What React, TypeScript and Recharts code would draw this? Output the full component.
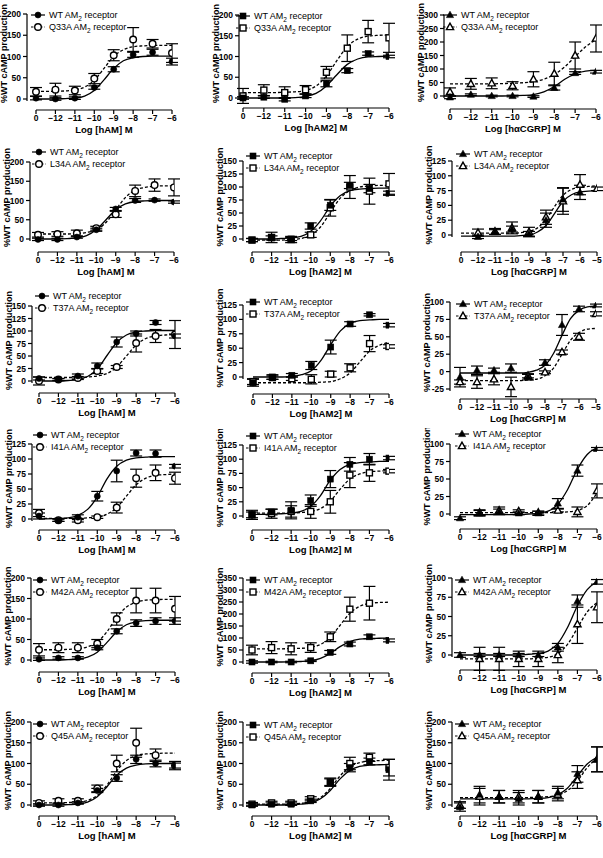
import React from 'react'
import { ComposedChart, ErrorBar, Legend, Line, ReferenceLine, Scatter, XAxis, YAxis } from 'recharts'

// 0 on the axis is the basal (no agonist) point, drawn one log unit left of -12.
const DOSES = [-13, -12, -11, -10, -9, -8, -7, -6]
const DOSES_5 = [-13, -12, -11, -10, -9, -8, -7, -6, -5]
const FIT_X = [-13, -12, -11.5, -11, -10.5, -10, -9.5, -9, -8.5, -8, -7.5, -7, -6.5, -6]
const FIT_X_5 = [-13, -12, -11.5, -11, -10.5, -10, -9.5, -9, -8.5, -8, -7.5, -7, -6.5, -6, -5.5, -5]

const TICKS_200 = [0, 50, 100, 150, 200]
const TICKS_150 = [0, 25, 50, 75, 100, 125, 150]
const TICKS_125 = [0, 25, 50, 75, 100, 125]
const TICKS_100 = [0, 25, 50, 75, 100]
const TICKS_300 = [0, 50, 100, 150, 200, 250, 300]
const TICKS_350 = [0, 50, 100, 150, 200, 250, 300, 350]
const TICKS_M25 = [-25, 0, 25, 50, 75, 100]

// Q33A
const Q33A_AM_WT = [2, 0, 2, 27, 70, 104, 110, 88]
const Q33A_AM_WT_SEM = [4, 3, 3, 4, 6, 6, 7, 8]
const Q33A_AM_MUT = [17, 22, 20, 48, 103, 140, 130, 108]
const Q33A_AM_MUT_SEM = [10, 15, 10, 12, 13, 28, 10, 22]
const Q33A_AM_WT_FIT = [0, 0, 1, 2, 7, 20, 45, 72, 90, 97, 100, 101, 101, 101]
const Q33A_AM_MUT_FIT = [18, 18, 19, 21, 28, 44, 72, 100, 116, 123, 125, 126, 126, 126]

const Q33A_AM2_WT = [0, 2, -3, 5, 35, 66, 107, 100]
const Q33A_AM2_WT_SEM = [3, 3, 4, 4, 8, 5, 4, 3]
const Q33A_AM2_MUT = [5, 19, 13, 20, 62, 120, 160, 145]
const Q33A_AM2_MUT_SEM = [18, 13, 14, 10, 14, 32, 27, 35]
const Q33A_AM2_WT_FIT = [0, 0, 0, 0, 1, 4, 11, 29, 56, 81, 94, 99, 100, 101]
const Q33A_AM2_MUT_FIT = [13, 13, 13, 14, 15, 18, 29, 53, 90, 124, 142, 149, 151, 152]

const Q33A_CGRP_WT = [-5, 5, 0, 0, -2, 30, 85, 90]
const Q33A_CGRP_WT_SEM = [5, 3, 3, 3, 3, 8, 5, 5]
const Q33A_CGRP_MUT = [15, 45, 47, 38, 62, 83, 150, 213]
const Q33A_CGRP_MUT_SEM = [15, 20, 20, 15, 28, 42, 50, 50]
const Q33A_CGRP_WT_FIT = [0, 0, 0, 0, 0, 1, 2, 5, 15, 35, 62, 82, 92, 95]
const Q33A_CGRP_MUT_FIT = [45, 45, 45, 45, 46, 47, 49, 53, 62, 80, 108, 146, 182, 210]

// L34A
const L34A_AM_WT = [-1, -1, 5, 24, 78, 100, 101, 96]
const L34A_AM_WT_SEM = [3, 3, 3, 4, 4, 5, 3, 3]
const L34A_AM_MUT = [11, 13, 15, 28, 64, 125, 140, 134]
const L34A_AM_MUT_SEM = [6, 6, 8, 5, 8, 15, 16, 22]
const L34A_AM_WT_FIT = [0, 0, 1, 3, 9, 24, 50, 76, 91, 97, 99, 100, 100, 100]
const L34A_AM_MUT_FIT = [13, 13, 13, 14, 17, 24, 43, 76, 108, 127, 134, 137, 138, 138]

const L34A_AM2_WT = [-2, 2, 0, 25, 65, 103, 97, 88]
const L34A_AM2_WT_SEM = [3, 4, 3, 6, 10, 6, 8, 4]
const L34A_AM2_MUT = [-2, 3, -1, 8, 60, 100, 92, 106]
const L34A_AM2_MUT_SEM = [3, 10, 6, 5, 16, 22, 25, 20]
const L34A_AM2_WT_FIT = [0, 0, 1, 2, 5, 15, 35, 63, 83, 93, 96, 97, 98, 98]
const L34A_AM2_MUT_FIT = [-2, -2, -2, -1, 1, 8, 23, 51, 78, 93, 100, 102, 103, 103]

const L34A_CGRP_WT = [null, -3, 5, 10, 2, 25, 60, 72, null]
const L34A_CGRP_WT_SEM = [null, 3, 4, 5, 4, 12, 20, 12, null]
const L34A_CGRP_MUT = [null, 4, 6, 12, 5, 30, 57, 85, 78]
const L34A_CGRP_MUT_SEM = [null, 6, 5, 10, 8, 12, 22, 17, 3]
const L34A_CGRP_WT_FIT = [-2, -2, -2, -2, -2, -2, -1, 0, 5, 16, 36, 57, 68, 73, 74, 75]
const L34A_CGRP_MUT_FIT = [3, 3, 3, 3, 3, 3, 4, 6, 12, 26, 48, 67, 77, 81, 82, 83]

// T37A
const T37A_AM_WT = [5, 3, 10, 30, 78, 95, 117, 90]
const T37A_AM_WT_SEM = [3, 2, 4, 6, 10, 5, 4, 4]
const T37A_AM_MUT = [0, 3, 6, 20, 28, 76, 90, 93]
const T37A_AM_MUT_SEM = [8, 2, 3, 5, 3, 18, 13, 28]
const T37A_AM_WT_FIT = [0, 0, 1, 3, 9, 24, 51, 77, 92, 98, 100, 101, 101, 101]
const T37A_AM_MUT_FIT = [7, 7, 7, 7, 8, 10, 15, 28, 50, 72, 85, 90, 92, 93]

const T37A_AM2_WT = [-10, 0, 3, 20, 52, 92, 108, 90]
const T37A_AM2_WT_SEM = [6, 4, 3, 7, 12, 4, 2, 3]
const T37A_AM2_MUT = [-8, -1, -3, -4, 5, 16, 58, 53]
const T37A_AM2_MUT_SEM = [5, 3, 3, 8, 5, 7, 14, 3]
const T37A_AM2_WT_FIT = [0, 0, 0, 1, 4, 11, 29, 56, 80, 93, 98, 99, 100, 100]
const T37A_AM2_MUT_FIT = [-10, -10, -10, -10, -10, -10, -9, -8, -3, 7, 26, 45, 55, 60]

const T37A_CGRP_WT = [-8, 2, 2, 5, -8, 13, 67, 90, 95]
const T37A_CGRP_WT_SEM = [14, 6, 3, 6, 4, 4, 15, 4, 2]
const T37A_CGRP_MUT = [-15, -15, -11, -22, -6, -1, 28, 50, 83]
const T37A_CGRP_MUT_SEM = [3, 9, 8, 14, 3, 2, 3, 5, 3]
const T37A_CGRP_WT_FIT = [-2, -2, -2, -2, -2, -2, -2, -1, 2, 9, 26, 52, 76, 88, 93, 94]
const T37A_CGRP_MUT_FIT = [-13, -13, -13, -13, -13, -13, -13, -12, -11, -6, 5, 25, 45, 56, 61, 62]

// I41A
const I41A_AM_WT = [5, -2, 3, 38, 80, 110, 109, 88]
const I41A_AM_WT_SEM = [5, 2, 4, 8, 18, 5, 6, 3]
const I41A_AM_MUT = [10, -2, -2, 3, 19, 68, 77, 68]
const I41A_AM_MUT_SEM = [6, 2, 3, 2, 9, 15, 13, 10]
const I41A_AM_WT_FIT = [0, 1, 2, 6, 16, 37, 67, 88, 98, 102, 103, 104, 104, 104]
const I41A_AM_MUT_FIT = [1, 1, 1, 1, 2, 3, 8, 19, 38, 57, 68, 73, 74, 75]

const I41A_AM2_WT = [2, 7, 10, 27, 65, 91, 100, 102]
const I41A_AM2_WT_SEM = [5, 5, 15, 10, 15, 12, 10, 3]
const I41A_AM2_MUT = [2, 4, 8, 8, 25, 72, 76, 79]
const I41A_AM2_MUT_SEM = [8, 8, 10, 12, 20, 22, 15, 3]
const I41A_AM2_WT_FIT = [3, 3, 4, 5, 8, 17, 36, 63, 82, 91, 94, 95, 96, 96]
const I41A_AM2_MUT_FIT = [5, 5, 5, 5, 6, 8, 13, 26, 47, 65, 74, 78, 79, 80]

const I41A_CGRP_WT = [-6, 1, 3, 1, 1, 15, 62, 93]
const I41A_CGRP_WT_SEM = [2, 4, 4, 2, 3, 7, 8, 2]
const I41A_CGRP_MUT = [null, 2, 5, 4, 2, 5, 3, 33]
const I41A_CGRP_MUT_SEM = [null, 4, 5, 2, 2, 2, 7, 10]
const I41A_CGRP_WT_FIT = [-1, -1, -1, -1, -1, -1, 0, 1, 4, 14, 35, 64, 85, 95]
const I41A_CGRP_MUT_FIT = [2, 2, 2, 2, 2, 2, 2, 2, 2, 2, 3, 5, 12, 30]

// M42A
const M42A_AM_WT = [2, 5, 5, 30, 70, 90, 95, 95]
const M42A_AM_WT_SEM = [3, 3, 3, 5, 6, 8, 8, 8]
const M42A_AM_MUT = [25, 30, 30, 40, 100, 145, 145, 125]
const M42A_AM_MUT_SEM = [15, 12, 12, 10, 15, 30, 30, 30]
const M42A_AM_WT_FIT = [0, 0, 1, 2, 7, 19, 43, 69, 86, 93, 96, 97, 97, 97]
const M42A_AM_MUT_FIT = [25, 25, 26, 27, 32, 44, 69, 104, 129, 141, 146, 147, 148, 148]

const M42A_AM2_WT = [0, 0, 0, 5, 40, 75, 105, 90]
const M42A_AM2_WT_SEM = [5, 3, 3, 3, 8, 8, 8, 6]
const M42A_AM2_MUT = [50, 60, 55, 60, 105, 220, 245, null]
const M42A_AM2_MUT_SEM = [20, 25, 25, 20, 20, 50, 70, null]
const M42A_AM2_WT_FIT = [0, 0, 0, 1, 2, 5, 15, 36, 64, 85, 95, 98, 99, 100]
const M42A_AM2_MUT_FIT = [55, 55, 55, 56, 57, 61, 73, 102, 153, 203, 232, 244, 248, 249]

const M42A_CGRP_WT = [0, 0, 0, 0, 0, 10, 70, 95]
const M42A_CGRP_WT_SEM = [3, 2, 2, 2, 2, 5, 8, 3]
const M42A_CGRP_MUT = [null, -5, -5, -5, -5, 0, 40, 62]
const M42A_CGRP_MUT_SEM = [null, 15, 15, 10, 10, 10, 25, 20]
const M42A_CGRP_WT_FIT = [0, 0, 0, 0, 0, 0, 1, 2, 5, 15, 36, 64, 85, 95]
const M42A_CGRP_MUT_FIT = [-5, -5, -5, -5, -5, -5, -5, -4, -3, 2, 14, 35, 56, 68]

// Q45A
const Q45A_AM_WT = [0, 0, 5, 35, 65, 110, 100, 95]
const Q45A_AM_WT_SEM = [3, 3, 3, 5, 8, 10, 8, 6]
const Q45A_AM_MUT = [5, 10, 10, 40, 100, 150, 120, 95]
const Q45A_AM_MUT_SEM = [5, 5, 5, 8, 20, 35, 15, 10]
const Q45A_AM_WT_FIT = [0, 0, 1, 2, 7, 20, 44, 72, 89, 96, 99, 100, 100, 100]
const Q45A_AM_MUT_FIT = [5, 5, 6, 7, 11, 23, 48, 82, 107, 119, 123, 124, 125, 125]

const Q45A_AM2_WT = [0, 2, 2, 10, 55, 90, 105, 85]
const Q45A_AM2_WT_SEM = [3, 3, 3, 4, 8, 10, 8, 25]
const Q45A_AM2_MUT = [2, 5, 5, 15, 55, 100, 115, 90]
const Q45A_AM2_MUT_SEM = [4, 4, 4, 5, 10, 15, 10, 20]
const Q45A_AM2_WT_FIT = [0, 0, 0, 1, 2, 5, 15, 35, 63, 83, 93, 96, 97, 98]
const Q45A_AM2_MUT_FIT = [2, 2, 2, 3, 4, 8, 18, 40, 70, 92, 102, 106, 107, 108]

const Q45A_CGRP_WT = [-5, 25, 20, 15, 20, 30, 75, 110]
const Q45A_CGRP_WT_SEM = [10, 20, 15, 15, 15, 15, 20, 30]
const Q45A_CGRP_MUT = [0, 20, 20, 20, 20, 25, 60, 110]
const Q45A_CGRP_MUT_SEM = [8, 20, 15, 15, 15, 15, 20, 30]
const Q45A_CGRP_WT_FIT = [15, 15, 15, 15, 15, 15, 15, 16, 18, 25, 41, 70, 99, 115]
const Q45A_CGRP_MUT_FIT = [18, 18, 18, 18, 18, 18, 18, 19, 20, 24, 35, 58, 90, 113]

type Kind = 'circle' | 'square' | 'triangle'
type Num = number | null

type PanelDef = {
  mutant: string
  ligand: 'AM' | 'AM2' | 'CGRP'
  yTicks: number[]
  long?: boolean
  wt: Num[]
  wtSem: Num[]
  mut: Num[]
  mutSem: Num[]
  wtFit: number[]
  mutFit: number[]
}

const PANELS: PanelDef[] = [
  { mutant: 'Q33A', ligand: 'AM', yTicks: TICKS_200, wt: Q33A_AM_WT, wtSem: Q33A_AM_WT_SEM, mut: Q33A_AM_MUT, mutSem: Q33A_AM_MUT_SEM, wtFit: Q33A_AM_WT_FIT, mutFit: Q33A_AM_MUT_FIT },
  { mutant: 'Q33A', ligand: 'AM2', yTicks: TICKS_200, wt: Q33A_AM2_WT, wtSem: Q33A_AM2_WT_SEM, mut: Q33A_AM2_MUT, mutSem: Q33A_AM2_MUT_SEM, wtFit: Q33A_AM2_WT_FIT, mutFit: Q33A_AM2_MUT_FIT },
  { mutant: 'Q33A', ligand: 'CGRP', yTicks: TICKS_300, wt: Q33A_CGRP_WT, wtSem: Q33A_CGRP_WT_SEM, mut: Q33A_CGRP_MUT, mutSem: Q33A_CGRP_MUT_SEM, wtFit: Q33A_CGRP_WT_FIT, mutFit: Q33A_CGRP_MUT_FIT },
  { mutant: 'L34A', ligand: 'AM', yTicks: TICKS_200, wt: L34A_AM_WT, wtSem: L34A_AM_WT_SEM, mut: L34A_AM_MUT, mutSem: L34A_AM_MUT_SEM, wtFit: L34A_AM_WT_FIT, mutFit: L34A_AM_MUT_FIT },
  { mutant: 'L34A', ligand: 'AM2', yTicks: TICKS_150, wt: L34A_AM2_WT, wtSem: L34A_AM2_WT_SEM, mut: L34A_AM2_MUT, mutSem: L34A_AM2_MUT_SEM, wtFit: L34A_AM2_WT_FIT, mutFit: L34A_AM2_MUT_FIT },
  { mutant: 'L34A', ligand: 'CGRP', yTicks: TICKS_125, long: true, wt: L34A_CGRP_WT, wtSem: L34A_CGRP_WT_SEM, mut: L34A_CGRP_MUT, mutSem: L34A_CGRP_MUT_SEM, wtFit: L34A_CGRP_WT_FIT, mutFit: L34A_CGRP_MUT_FIT },
  { mutant: 'T37A', ligand: 'AM', yTicks: TICKS_150, wt: T37A_AM_WT, wtSem: T37A_AM_WT_SEM, mut: T37A_AM_MUT, mutSem: T37A_AM_MUT_SEM, wtFit: T37A_AM_WT_FIT, mutFit: T37A_AM_MUT_FIT },
  { mutant: 'T37A', ligand: 'AM2', yTicks: TICKS_125, wt: T37A_AM2_WT, wtSem: T37A_AM2_WT_SEM, mut: T37A_AM2_MUT, mutSem: T37A_AM2_MUT_SEM, wtFit: T37A_AM2_WT_FIT, mutFit: T37A_AM2_MUT_FIT },
  { mutant: 'T37A', ligand: 'CGRP', yTicks: TICKS_M25, long: true, wt: T37A_CGRP_WT, wtSem: T37A_CGRP_WT_SEM, mut: T37A_CGRP_MUT, mutSem: T37A_CGRP_MUT_SEM, wtFit: T37A_CGRP_WT_FIT, mutFit: T37A_CGRP_MUT_FIT },
  { mutant: 'I41A', ligand: 'AM', yTicks: TICKS_125, wt: I41A_AM_WT, wtSem: I41A_AM_WT_SEM, mut: I41A_AM_MUT, mutSem: I41A_AM_MUT_SEM, wtFit: I41A_AM_WT_FIT, mutFit: I41A_AM_MUT_FIT },
  { mutant: 'I41A', ligand: 'AM2', yTicks: TICKS_125, wt: I41A_AM2_WT, wtSem: I41A_AM2_WT_SEM, mut: I41A_AM2_MUT, mutSem: I41A_AM2_MUT_SEM, wtFit: I41A_AM2_WT_FIT, mutFit: I41A_AM2_MUT_FIT },
  { mutant: 'I41A', ligand: 'CGRP', yTicks: TICKS_100, wt: I41A_CGRP_WT, wtSem: I41A_CGRP_WT_SEM, mut: I41A_CGRP_MUT, mutSem: I41A_CGRP_MUT_SEM, wtFit: I41A_CGRP_WT_FIT, mutFit: I41A_CGRP_MUT_FIT },
  { mutant: 'M42A', ligand: 'AM', yTicks: TICKS_200, wt: M42A_AM_WT, wtSem: M42A_AM_WT_SEM, mut: M42A_AM_MUT, mutSem: M42A_AM_MUT_SEM, wtFit: M42A_AM_WT_FIT, mutFit: M42A_AM_MUT_FIT },
  { mutant: 'M42A', ligand: 'AM2', yTicks: TICKS_350, wt: M42A_AM2_WT, wtSem: M42A_AM2_WT_SEM, mut: M42A_AM2_MUT, mutSem: M42A_AM2_MUT_SEM, wtFit: M42A_AM2_WT_FIT, mutFit: M42A_AM2_MUT_FIT },
  { mutant: 'M42A', ligand: 'CGRP', yTicks: TICKS_100, wt: M42A_CGRP_WT, wtSem: M42A_CGRP_WT_SEM, mut: M42A_CGRP_MUT, mutSem: M42A_CGRP_MUT_SEM, wtFit: M42A_CGRP_WT_FIT, mutFit: M42A_CGRP_MUT_FIT },
  { mutant: 'Q45A', ligand: 'AM', yTicks: TICKS_200, wt: Q45A_AM_WT, wtSem: Q45A_AM_WT_SEM, mut: Q45A_AM_MUT, mutSem: Q45A_AM_MUT_SEM, wtFit: Q45A_AM_WT_FIT, mutFit: Q45A_AM_MUT_FIT },
  { mutant: 'Q45A', ligand: 'AM2', yTicks: TICKS_200, wt: Q45A_AM2_WT, wtSem: Q45A_AM2_WT_SEM, mut: Q45A_AM2_MUT, mutSem: Q45A_AM2_MUT_SEM, wtFit: Q45A_AM2_WT_FIT, mutFit: Q45A_AM2_MUT_FIT },
  { mutant: 'Q45A', ligand: 'CGRP', yTicks: TICKS_200, wt: Q45A_CGRP_WT, wtSem: Q45A_CGRP_WT_SEM, mut: Q45A_CGRP_MUT, mutSem: Q45A_CGRP_MUT_SEM, wtFit: Q45A_CGRP_WT_FIT, mutFit: Q45A_CGRP_MUT_FIT },
]

// page layout, px: y-axis line x, x of the "0" tick, x of last tick,
// y of top tick, y of lowest tick, y of x-axis line, legend marker x / first row y
const LAYOUT = [
  [27, 36, 172, 14, 99, 110, 38, 15],
  [239, 243, 389, 15, 98, 108, 243, 16],
  [444, 450, 596, 15, 96, 109, 450, 15],
  [30, 38, 174, 162, 239, 252, 39, 152],
  [243, 252, 389, 161, 239, 252, 253, 156],
  [452, 461, 597, 161, 235, 252, 463, 154],
  [32, 39, 175, 306, 381, 393, 42, 296],
  [243, 253, 389, 305, 377, 394, 253, 302],
  [450, 460, 596, 302, 389, 399, 463, 304],
  [32, 39, 175, 444, 519, 530, 40, 435],
  [243, 252, 389, 445, 516, 530, 253, 436],
  [450, 460, 597, 444, 514, 529, 462, 434],
  [31, 39, 175, 578, 660, 672, 40, 580],
  [243, 252, 389, 578, 662, 673, 253, 580],
  [452, 460, 597, 578, 655, 670, 462, 580],
  [31, 39, 175, 722, 805, 816, 40, 724],
  [243, 252, 389, 722, 805, 816, 253, 725],
  [452, 460, 597, 722, 805, 816, 462, 724],
]

const COL_LEFT = [0, 200, 400]
const COL_WIDTH = [200, 200, 203]
const KINDS: Kind[] = ['circle', 'square', 'triangle']
const X_TITLES = { AM: 'Log [hAM] M', AM2: 'Log [hAM2] M', CGRP: 'Log [hαCGRP] M' }
const FF = '"Liberation Sans", Arial, Helvetica, sans-serif'

function Marker({ cx, cy, kind, filled }: { cx: number; cy: number; kind: Kind; filled: boolean }) {
  const fill = filled ? '#000' : '#fff'
  const sw = filled ? 0.6 : 1.4
  if (kind === 'circle') return <circle cx={cx} cy={cy} r={filled ? 3 : 3.3} fill={fill} stroke="#000" strokeWidth={sw} />
  if (kind === 'square')
    return <rect x={cx - 3} y={cy - 3} width={6} height={6} fill={fill} stroke="#000" strokeWidth={sw} />
  return (
    <polygon
      points={`${cx},${cy - 3.8} ${cx - 3.6},${cy + 2.6} ${cx + 3.6},${cy + 2.6}`}
      fill={fill}
      stroke="#000"
      strokeWidth={sw}
      strokeLinejoin="miter"
    />
  )
}

function LegendBox({ kind, mutant }: { kind: Kind; mutant: string }) {
  return (
    <div style={{ fontFamily: FF, fontSize: 9, color: '#000', whiteSpace: 'nowrap' }}>
      {[0, 1].map((i) => (
        <div key={i} style={{ display: 'flex', alignItems: 'center', height: 12 }}>
          <svg width={16} height={12} style={{ display: 'block' }}>
            <line x1={1} x2={15} y1={6} y2={6} stroke="#000" strokeWidth={1.2} strokeDasharray={i ? '2.5 2' : undefined} />
            <Marker cx={8} cy={6} kind={kind} filled={i === 0} />
          </svg>
          <span style={{ marginLeft: 3, lineHeight: '12px' }}>
            {i ? mutant : 'WT'} AM<sub style={{ fontSize: 6.5, lineHeight: 0 }}>2</sub> receptor
          </span>
        </div>
      ))}
    </div>
  )
}

const fmtDose = (v: number) => (v === -13 ? '0' : `−${Math.abs(v)}`)

function Panel({ p, index }: { p: PanelDef; index: number }) {
  const col = index % 3
  const kind = KINDS[col]
  const [axisX, x0, xEnd, top, low, bottom, legX, legY] = LAYOUT[index]
  const boxLeft = COL_LEFT[col]
  const boxW = COL_WIDTH[col]
  const boxTop = top - 16
  const boxH = bottom - boxTop + 28

  const doses = p.long ? DOSES_5 : DOSES
  const fitX = p.long ? FIT_X_5 : FIT_X
  const xMax = doses[doses.length - 1]
  const unit = (xEnd - x0) / (xMax + 13)
  const xMin = -13 - (x0 - axisX) / unit

  const yTop = p.yTicks[p.yTicks.length - 1]
  const yLow = p.yTicks[0]
  const ppu = (low - top) / (yTop - yLow)
  const yMin = yLow - (bottom - low) / ppu
  const yAxisEnd = yLow - 2 / ppu

  const pts = (ys: Num[], es: Num[]) =>
    doses.map((x, i) => ({ x, y: ys[i], e: es[i] })).filter((d) => d.y != null)
  const fit = (ys: number[]) => fitX.map((x, i) => ({ x, y: ys[i] }))

  const tickStyle = { fontSize: 8.5, fontWeight: 700, fill: '#000', fontFamily: FF }
  const xMid = (x0 + xEnd) / 2 - boxLeft
  const yMid = (top + low) / 2 - 3 - boxTop
  const yLabX = axisX - 23 - boxLeft

  return (
    <div style={{ position: 'absolute', left: boxLeft, top: boxTop, width: boxW, height: boxH }}>
      <ComposedChart
        width={boxW}
        height={boxH}
        margin={{ top: top - boxTop, right: boxLeft + boxW - xEnd, bottom: 0, left: 0 }}
      >
        <XAxis
          type="number"
          dataKey="x"
          domain={[xMin, xMax]}
          ticks={doses}
          interval={0}
          tickFormatter={fmtDose}
          allowDataOverflow
          axisLine={false}
          tickLine={{ stroke: '#000', strokeWidth: 1.2 }}
          tickSize={4}
          tickMargin={1}
          height={boxTop + boxH - bottom}
          tick={tickStyle}
          label={{
            content: () => (
              <text x={xMid} y={bottom + 23 - boxTop} textAnchor="middle" fontFamily={FF} fontSize={9.5} fontWeight={700} fill="#000">
                {X_TITLES[p.ligand]}
              </text>
            ),
          }}
        />
        <YAxis
          type="number"
          dataKey="y"
          domain={[yMin, yTop]}
          ticks={p.yTicks}
          interval={0}
          allowDataOverflow
          axisLine={false}
          tickLine={{ stroke: '#000', strokeWidth: 1.2 }}
          tickSize={4}
          tickMargin={2}
          width={axisX - boxLeft}
          tick={tickStyle}
          label={{
            content: () => (
              <text
                x={yLabX}
                y={yMid}
                transform={`rotate(-90, ${yLabX}, ${yMid})`}
                textAnchor="middle"
                dominantBaseline="central"
                fontFamily={FF}
                fontSize={9}
                fontWeight={700}
                fill="#000"
              >
                %WT cAMP production
              </text>
            ),
          }}
        />
        <ReferenceLine
          segment={[{ x: -13, y: yMin }, { x: xMax, y: yMin }]}
          stroke="#000"
          strokeWidth={1.2}
          ifOverflow="visible"
        />
        <ReferenceLine
          segment={[{ x: xMin, y: yAxisEnd }, { x: xMin, y: yTop }]}
          stroke="#000"
          strokeWidth={1.2}
          ifOverflow="visible"
        />
        <Line data={fit(p.wtFit)} dataKey="y" type="monotone" stroke="#000" strokeWidth={1.3} dot={false} isAnimationActive={false} />
        <Line
          data={fit(p.mutFit)}
          dataKey="y"
          type="monotone"
          stroke="#000"
          strokeWidth={1.3}
          strokeDasharray="3 2"
          dot={false}
          isAnimationActive={false}
        />
        <Scatter
          data={pts(p.mut, p.mutSem)}
          dataKey="y"
          isAnimationActive={false}
          shape={(s: any) => <Marker cx={s.cx} cy={s.cy} kind={kind} filled={false} />}
        >
          <ErrorBar dataKey="e" direction="y" width={6} stroke="#000" strokeWidth={1.2} />
        </Scatter>
        <Scatter
          data={pts(p.wt, p.wtSem)}
          dataKey="y"
          isAnimationActive={false}
          shape={(s: any) => <Marker cx={s.cx} cy={s.cy} kind={kind} filled />}
        >
          <ErrorBar dataKey="e" direction="y" width={6} stroke="#000" strokeWidth={1.2} />
        </Scatter>
        <Legend
          layout="horizontal"
          verticalAlign="middle"
          align="center"
          content={() => <LegendBox kind={kind} mutant={p.mutant} />}
          wrapperStyle={{ left: legX - 8 - boxLeft, top: legY - 6 - boxTop, width: 'auto', height: 'auto' }}
        />
      </ComposedChart>
    </div>
  )
}

export default function App() {
  return (
    <div style={{ position: 'absolute', left: 0, top: 0, width: 603, height: 858, background: '#fff' }}>
      {PANELS.map((p, i) => (
        <Panel key={i} p={p} index={i} />
      ))}
    </div>
  )
}
